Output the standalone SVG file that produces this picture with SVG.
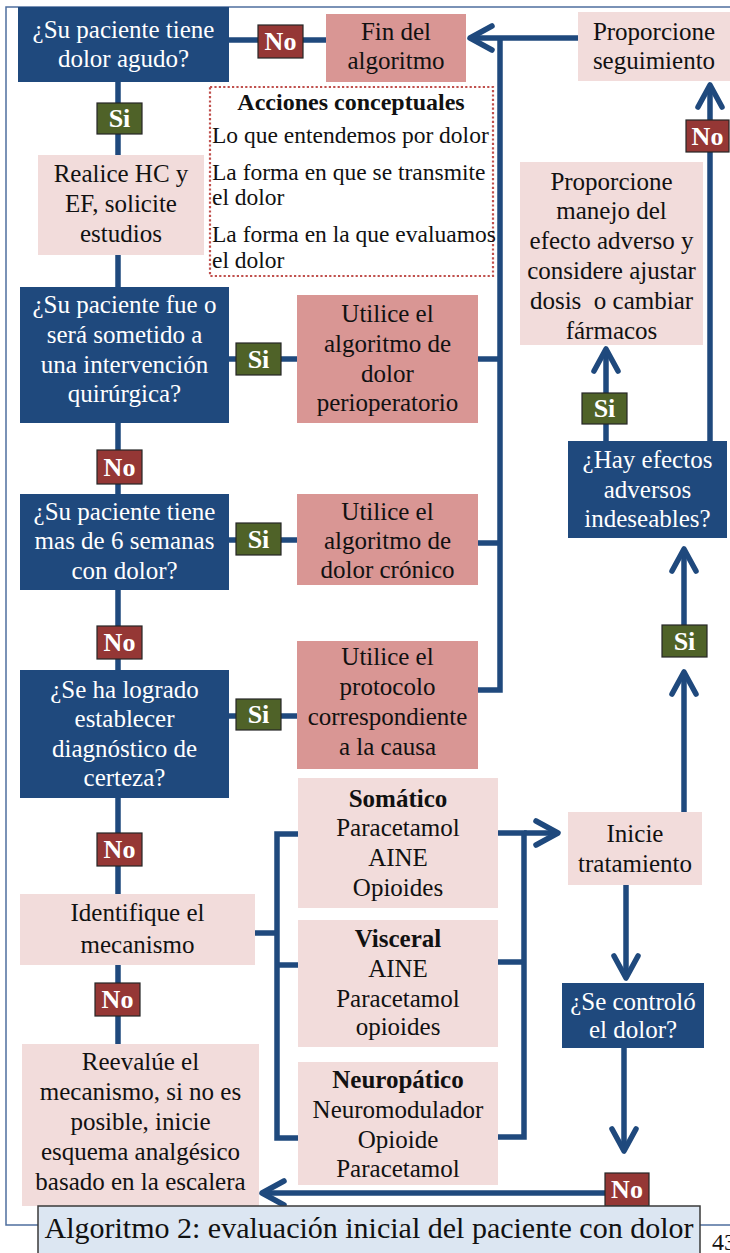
<svg xmlns="http://www.w3.org/2000/svg" width="730" height="1253" viewBox="0 0 730 1253">
  <style>
    text { font-family: "Liberation Serif", "Times New Roman", serif; font-size: 25px; text-anchor: middle; }
    .q { fill: #1f497d; }
    .pk { fill: #f2dcdb; }
    .rd { fill: #d99694; }
    .no { fill: #953735; stroke: #262626; stroke-width: 1.2; }
    .si { fill: #4f6228; stroke: #262626; stroke-width: 1.2; }
    .w { fill: #ffffff; }
    .k { fill: #111111; }
    .lb { font-weight: bold; font-size: 26px; fill: #ffffff; }
    .b { font-weight: bold; }
    .cn { fill: none; stroke: #1f497d; stroke-width: 5.5; }
    .ar { marker-end: url(#chev); }
    .note text { font-size: 23.5px; text-anchor: start; fill: #111111; }
    .frame { fill: none; stroke: #4f6f9f; stroke-width: 1.5; }
  </style>
  <defs>
    <marker id="chev" markerUnits="userSpaceOnUse" viewBox="-30 -20 40 40" refX="0" refY="0" markerWidth="40" markerHeight="40" orient="auto" overflow="visible">
      <path d="M-22,-12 L0,0 L-22,12" fill="none" stroke="#1f497d" stroke-width="5.5" stroke-linecap="round" stroke-linejoin="round"/>
    </marker>
  </defs>

  <rect width="730" height="1253" fill="#ffffff"/>

  <!-- page frame -->
  <path class="frame" d="M38,1225 H6 V7 H730 M700,1225 H730"/>

  <!-- connectors -->
  <g id="connectors">
    <path class="cn" d="M229,40 H326"/>
    <path class="cn" d="M118,82 V155 M118,255 V287 M118,423 V494 M118,590 V670 M118,798 V894 M118,965 V1044"/>
    <path class="cn" d="M229,359 H297 M229,540 H297 M229,716 H297"/>
    <path class="cn" d="M478,359 H500 M478,543 H500 M478,690 H500 V38"/>
    <path class="cn ar" d="M578,38 H470"/>
    <path class="cn" d="M255,933 H277 M298,834 H277 V1138 H298 M277,965 H298"/>
    <path class="cn" d="M498,833 H524 V1137 H498 M498,962 H524"/>
    <path class="cn ar" d="M524,833 H558"/>
    <path class="cn ar" d="M684,812 V672"/>
    <path class="cn ar" d="M684,625 V549"/>
    <path class="cn" d="M606,441 V424"/>
    <path class="cn ar" d="M606,393 V349"/>
    <path class="cn" d="M710,441 V152"/>
    <path class="cn ar" d="M710,120 V85"/>
    <path class="cn ar" d="M626,885 V978"/>
    <path class="cn ar" d="M624,1048 V1151"/>
    <path class="cn ar" d="M605,1193 H262"/>
  </g>

  <!-- decision: acute pain -->
  <g id="q-agudo">
    <rect class="q" x="18" y="7" width="211" height="75"/>
    <text class="w" x="123.5" y="38">¿Su paciente tiene</text>
    <text class="w" x="123.5" y="67">dolor agudo?</text>
  </g>
  <g id="lbl-no-1">
    <rect class="no" x="258" y="25" width="45" height="33"/>
    <text class="lb" x="280.5" y="50">No</text>
  </g>
  <g id="fin">
    <rect class="rd" x="326" y="14" width="140" height="68"/>
    <text class="k" x="396" y="40">Fin del</text>
    <text class="k" x="396" y="69">algoritmo</text>
  </g>
  <g id="seguimiento">
    <rect class="pk" x="578" y="12" width="154" height="69"/>
    <text class="k" x="654" y="40">Proporcione</text>
    <text class="k" x="654" y="69">seguimiento</text>
  </g>

  <!-- conceptual notes -->
  <g id="acciones" class="note">
    <rect x="210" y="87" width="283" height="189" fill="#ffffff" stroke="#c0504d" stroke-width="2.2" stroke-dasharray="2.2 2.2"/>
    <text x="351" y="110" style="text-anchor:middle;font-weight:bold;font-size:24px">Acciones conceptuales</text>
    <text x="212" y="143">Lo que entendemos por dolor</text>
    <text x="212" y="180">La forma en que se transmite</text>
    <text x="212" y="205">el dolor</text>
    <text x="212" y="242">La forma en la que evaluamos</text>
    <text x="212" y="268">el dolor</text>
  </g>

  <g id="lbl-si-1">
    <rect class="si" x="97" y="103" width="45" height="31"/>
    <text class="lb" x="119.5" y="127">Si</text>
  </g>
  <g id="realice">
    <rect class="pk" x="38" y="155" width="166" height="100"/>
    <text class="k" x="121" y="182">Realice HC y</text>
    <text class="k" x="121" y="212">EF, solicite</text>
    <text class="k" x="121" y="242">estudios</text>
  </g>

  <!-- decision: surgery -->
  <g id="q-cirugia">
    <rect class="q" x="20" y="287" width="209" height="136"/>
    <text class="w" x="124.5" y="313">¿Su paciente fue o</text>
    <text class="w" x="124.5" y="343">será sometido a</text>
    <text class="w" x="124.5" y="373">una intervención</text>
    <text class="w" x="124.5" y="402">quirúrgica?</text>
  </g>
  <g id="lbl-si-2">
    <rect class="si" x="236" y="343" width="45" height="32"/>
    <text class="lb" x="258.5" y="368">Si</text>
  </g>
  <g id="perioperatorio">
    <rect class="rd" x="297" y="295" width="181" height="128"/>
    <text class="k" x="387.5" y="322">Utilice el</text>
    <text class="k" x="387.5" y="352">algoritmo de</text>
    <text class="k" x="387.5" y="382">dolor</text>
    <text class="k" x="387.5" y="411">perioperatorio</text>
  </g>
  <g id="lbl-no-2">
    <rect class="no" x="97" y="450" width="45" height="34"/>
    <text class="lb" x="119.5" y="476">No</text>
  </g>

  <!-- decision: chronic -->
  <g id="q-cronico">
    <rect class="q" x="20" y="494" width="209" height="96"/>
    <text class="w" x="124.5" y="520">¿Su paciente tiene</text>
    <text class="w" x="124.5" y="549">mas de 6 semanas</text>
    <text class="w" x="124.5" y="579">con dolor?</text>
  </g>
  <g id="lbl-si-3">
    <rect class="si" x="236" y="523" width="45" height="32"/>
    <text class="lb" x="258.5" y="548">Si</text>
  </g>
  <g id="cronico">
    <rect class="rd" x="297" y="494" width="181" height="91"/>
    <text class="k" x="387.5" y="520">Utilice el</text>
    <text class="k" x="387.5" y="549">algoritmo de</text>
    <text class="k" x="387.5" y="578">dolor crónico</text>
  </g>
  <g id="lbl-no-3">
    <rect class="no" x="97" y="626" width="45" height="33"/>
    <text class="lb" x="119.5" y="651">No</text>
  </g>

  <!-- decision: diagnosis -->
  <g id="q-diagnostico">
    <rect class="q" x="20" y="670" width="209" height="128"/>
    <text class="w" x="124.5" y="698">¿Se ha logrado</text>
    <text class="w" x="124.5" y="727">establecer</text>
    <text class="w" x="124.5" y="757">diagnóstico de</text>
    <text class="w" x="124.5" y="786">certeza?</text>
  </g>
  <g id="lbl-si-4">
    <rect class="si" x="236" y="699" width="45" height="31"/>
    <text class="lb" x="258.5" y="723">Si</text>
  </g>
  <g id="protocolo">
    <rect class="rd" x="297" y="641" width="181" height="128"/>
    <text class="k" x="387.5" y="665">Utilice el</text>
    <text class="k" x="387.5" y="695">protocolo</text>
    <text class="k" x="387.5" y="725">correspondiente</text>
    <text class="k" x="387.5" y="755">a la causa</text>
  </g>
  <g id="lbl-no-4">
    <rect class="no" x="97" y="833" width="45" height="33"/>
    <text class="lb" x="119.5" y="858">No</text>
  </g>

  <g id="identifique">
    <rect class="pk" x="20" y="894" width="235" height="71"/>
    <text class="k" x="137.5" y="921">Identifique el</text>
    <text class="k" x="137.5" y="953">mecanismo</text>
  </g>
  <g id="lbl-no-5">
    <rect class="no" x="95" y="983" width="45" height="33"/>
    <text class="lb" x="117.5" y="1008">No</text>
  </g>
  <g id="reevalue">
    <rect class="pk" x="22" y="1044" width="237" height="162"/>
    <text class="k" x="140.5" y="1070">Reevalúe el</text>
    <text class="k" x="140.5" y="1100">mecanismo, si no es</text>
    <text class="k" x="140.5" y="1130">posible, inicie</text>
    <text class="k" x="140.5" y="1160">esquema analgésico</text>
    <text class="k" x="140.5" y="1190">basado en la escalera</text>
  </g>

  <!-- mechanisms -->
  <g id="somatico">
    <rect class="pk" x="298" y="778" width="200" height="130"/>
    <text class="k b" x="398" y="807">Somático</text>
    <text class="k" x="398" y="836">Paracetamol</text>
    <text class="k" x="398" y="866">AINE</text>
    <text class="k" x="398" y="896">Opioides</text>
  </g>
  <g id="visceral">
    <rect class="pk" x="298" y="920" width="200" height="127"/>
    <text class="k b" x="398" y="947">Visceral</text>
    <text class="k" x="398" y="977">AINE</text>
    <text class="k" x="398" y="1007">Paracetamol</text>
    <text class="k" x="398" y="1035">opioides</text>
  </g>
  <g id="neuropatico">
    <rect class="pk" x="298" y="1062" width="200" height="123"/>
    <text class="k b" x="398" y="1088">Neuropático</text>
    <text class="k" x="398" y="1118">Neuromodulador</text>
    <text class="k" x="398" y="1148">Opioide</text>
    <text class="k" x="398" y="1177">Paracetamol</text>
  </g>

  <!-- treatment column -->
  <g id="inicie">
    <rect class="pk" x="568" y="812" width="134" height="73"/>
    <text class="k" x="635" y="842">Inicie</text>
    <text class="k" x="635" y="872">tratamiento</text>
  </g>
  <g id="q-controlo">
    <rect class="q" x="562" y="983" width="142" height="65"/>
    <text class="w" x="633" y="1010">¿Se controló</text>
    <text class="w" x="633" y="1038">el dolor?</text>
  </g>
  <g id="lbl-no-6">
    <rect class="no" x="605" y="1173" width="44" height="33"/>
    <text class="lb" x="627" y="1198">No</text>
  </g>
  <g id="lbl-si-5">
    <rect class="si" x="662" y="625" width="45" height="32"/>
    <text class="lb" x="684.5" y="650">Si</text>
  </g>
  <g id="q-adversos">
    <rect class="q" x="568" y="441" width="159" height="97"/>
    <text class="w" x="647.5" y="468">¿Hay efectos</text>
    <text class="w" x="647.5" y="498">adversos</text>
    <text class="w" x="647.5" y="527">indeseables?</text>
  </g>
  <g id="lbl-si-6">
    <rect class="si" x="582" y="393" width="45" height="31"/>
    <text class="lb" x="604.5" y="417">Si</text>
  </g>
  <g id="manejo">
    <rect class="pk" x="520" y="162" width="183" height="183"/>
    <text class="k" x="611.5" y="190">Proporcione</text>
    <text class="k" x="611.5" y="219">manejo del</text>
    <text class="k" x="611.5" y="249">efecto adverso y</text>
    <text class="k" x="611.5" y="279">considere ajustar</text>
    <text class="k" x="611.5" y="309" xml:space="preserve">dosis  o cambiar</text>
    <text class="k" x="611.5" y="339">fármacos</text>
  </g>
  <g id="lbl-no-7">
    <rect class="no" x="686" y="120" width="43" height="32"/>
    <text class="lb" x="707.5" y="145">No</text>
  </g>

  <!-- caption and page number -->
  <g id="caption">
    <rect x="38" y="1206" width="662" height="50" fill="#dce6f2" stroke="#3a3a3a" stroke-width="1.5"/>
    <text x="369" y="1238" style="font-size:30px;fill:#111111">Algoritmo 2: evaluación inicial del paciente con dolor</text>
    <text x="712" y="1250" style="font-size:24px;text-anchor:start;fill:#111111">43</text>
  </g>
</svg>
